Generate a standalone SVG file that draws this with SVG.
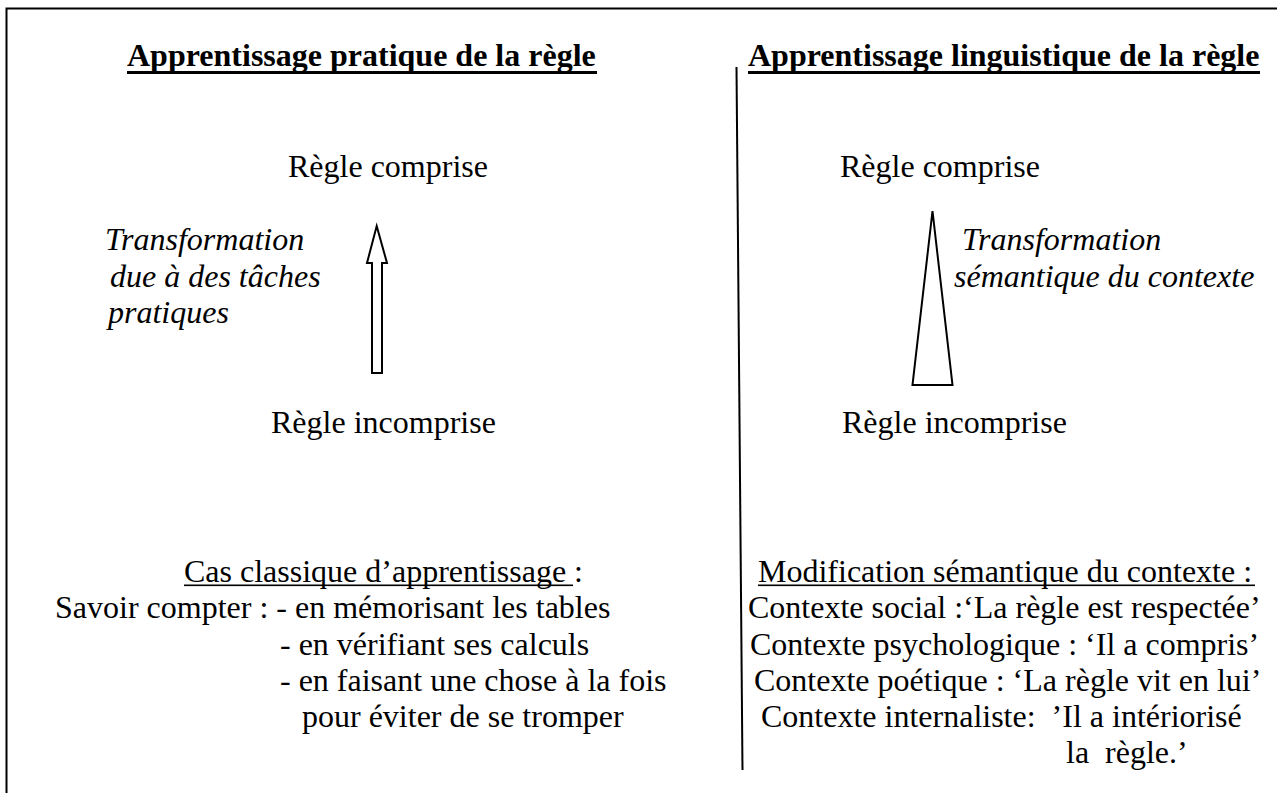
<svg xmlns="http://www.w3.org/2000/svg" width="1277" height="793" viewBox="0 0 1277 793">
<style>
text{font-family:'Liberation Serif','Times New Roman',Times,serif;font-size:32px;fill:#000;white-space:pre}
.b{font-weight:bold}
.i{font-style:italic}
.ln{stroke:#000;fill:none}
.shape{fill:#fff;stroke:#000;stroke-width:2;stroke-linejoin:miter}
</style>
<rect x="0" y="0" width="1277" height="793" fill="#fff"/>
<rect id="frame" x="6.5" y="8.5" width="1400" height="900" fill="none" stroke="#000" stroke-width="2"/>
<line id="divider" class="ln" x1="736.5" y1="67" x2="742.5" y2="770" stroke-width="2"/>

<g font-family="Liberation Serif, serif">
<g id="title-left">
<text class="b" x="127" y="66">Apprentissage pratique de la règle</text>
<rect x="127" y="71" width="470" height="3"/>
</g>
<g id="title-right">
<text class="b" x="748" y="66">Apprentissage linguistique de la règle</text>
<rect x="748" y="71" width="512" height="3"/>
</g>

<g id="regle-comprise-left"><text x="288" y="177">Règle comprise</text></g>
<g id="regle-incomprise-left"><text x="271" y="433">Règle incomprise</text></g>
<g id="regle-comprise-right"><text x="840" y="177">Règle comprise</text></g>
<g id="regle-incomprise-right"><text x="842" y="433">Règle incomprise</text></g>

<g id="label-left">
<text class="i" x="105" y="250">Transformation</text>
<text class="i" x="110" y="287">due à des tâches</text>
<text class="i" x="108" y="323">pratiques</text>
</g>
<g id="label-right">
<text class="i" x="962" y="250">Transformation</text>
<text class="i" x="954" y="287">sémantique du contexte</text>
</g>

<g id="case-left">
<text x="184" y="582">Cas classique d’apprentissage :</text>
<rect x="184" y="584.5" width="389" height="1.6"/>
<text x="55" y="618">Savoir compter : - en mémorisant les tables</text>
<text x="280" y="655">- en vérifiant ses calculs</text>
<text x="280" y="691">- en faisant une chose à la fois</text>
<text x="302" y="727">pour éviter de se tromper</text>
</g>

<g id="case-right">
<text x="758" y="582">Modification sémantique du contexte :</text>
<rect x="758" y="584.5" width="497" height="1.6"/>
<text x="748" y="618">Contexte social :‘La règle est respectée’</text>
<text x="750" y="655">Contexte psychologique : ‘Il a compris’</text>
<text x="754" y="691">Contexte poétique : ‘La règle vit en lui’</text>
<text x="761" y="727">Contexte internaliste:  ’Il a intériorisé</text>
<text x="1066" y="763">la  règle.’</text>
</g>
</g>

<g id="connectors">
<polygon id="arrow-left" class="shape" stroke-width="1.6" points="376.7,226 387,263 382,263 382,373 372,373 372,263 367,263"/>
<polygon id="arrow-right" class="shape" points="932.5,211 952.5,385 912.5,385"/>
</g>
</svg>
